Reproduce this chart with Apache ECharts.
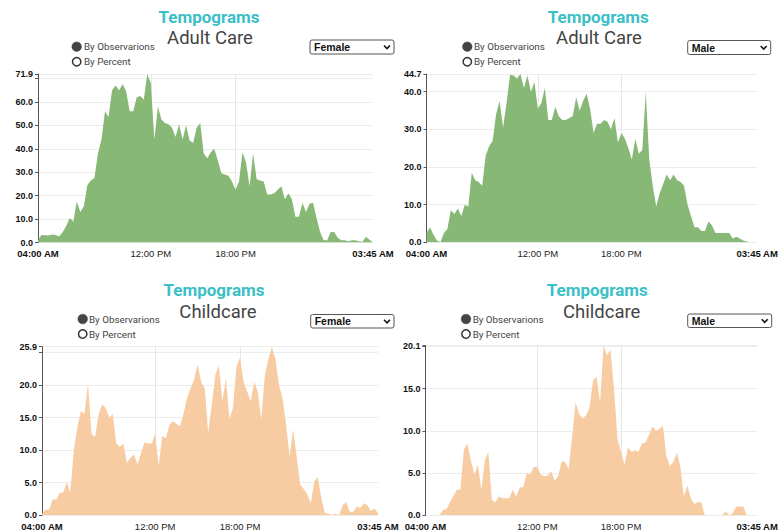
<!DOCTYPE html>
<html><head><meta charset="utf-8">
<script src="https://cdn.jsdelivr.net/npm/echarts@6/dist/echarts.min.js"></script>
<style>html,body{margin:0;padding:0;background:#fff;}#c{width:781px;height:531px;}</style>
</head><body><div id="c"></div>
<script>
// ---- data ----
const tickIndices = [0, 32, 56, 95];
const tickLabels = ['04:00 AM', '12:00 PM', '18:00 PM', '03:45 AM'];
const panelTitles = ['Adult Care', 'Adult Care', 'Childcare', 'Childcare'];
const panelGenders = ['Female', 'Male', 'Female', 'Male'];
const adultFemale = [1,3.2,3.1,3.0,3.4,3.2,2.6,4.5,7,10.5,
  9,17.5,13,15.5,24.5,26.5,27.5,38,44,56,
  53.5,65,67,65,67.5,64.5,56,56,62,62.5,
  61,71.9,68,44,58,52.5,51,50.5,49,45,
  50.5,44,50,43.5,42.5,49,51,38,36,38.5,
  40,35,29.5,29,28.5,26,22.5,26,38.5,34,
  24,38,27,26.5,26,20.5,20.5,21,22.5,24,
  18.5,21,18.5,11,11,17,13,16.5,17,10.5,
  4.5,1,1,4.5,4.5,2,1,1,0.5,1,
  1,0.5,0.3,2.5,1.2,0];
const adultMale = [2.5,4,2,0.5,0,2.5,3.5,8.5,7.5,9,
  7,10,9.5,18.5,16.5,16,15,23,25.5,27,
  34,37.5,30.5,37,44.5,44.3,43.5,44.7,41,44.3,
  40,42.5,35.5,37,41,32.5,32.5,36,33.5,32.5,
  32.5,33,33.5,38.5,35,37.5,39.5,35.5,29,31.5,
  31.5,32.5,32,30,33,26.5,29,27.5,25,22,
  27.5,23.5,24.5,40,22,15,9.5,13,15.5,18,
  16.5,18,16.5,16,15,10,7,4,4,3,
  3,5.5,4.5,2.5,2.5,2.5,2.5,2.5,1,1.5,
  1,0.5,0.2,0,0,0];
const childFemale = [0.2,0.8,0.8,2.4,2.4,3.4,3.5,5,3.5,10,
  13.5,16,15.5,20.2,12.5,12,15.5,17,16.5,15,
  15.5,11,10.5,11,8,8.8,9.3,7.8,9.5,11.2,
  11,11,12.5,7.5,12.2,11.8,13.8,14.5,14,13.7,
  15.5,18,19.5,20.8,23.2,20.5,19.5,12.7,17,21.5,
  23,17.5,21,14.8,16.5,23,24.2,20.5,19,17.5,
  20.5,19,14.7,21.5,24,25.9,24,20,18,14,
  9,13.2,9,4.7,4,3.2,1.8,5.2,5.8,2.5,
  0.3,0.2,0,0.2,0,1.5,2,0.5,0.5,1.3,
  1.1,1.8,1.5,0.6,1,0.3];
const childMale = [0,0,0,0,0,0.6,0.7,1.5,2.3,3,
  3,7.8,8.5,6.5,4.8,6,3,6.5,7.5,1.8,
  1.5,2.2,2,2,2,3,2.2,3.3,3.3,5,
  4.8,5.7,5.7,4.8,4.6,4.7,5.2,4.1,4.6,6.4,
  6.3,5.5,9.3,13.4,12,11.5,11.8,12.8,16,16.4,
  13.3,20.1,19,19.6,15,9,7.5,6,8,7.5,
  7.7,7.5,8.5,8.6,9.5,10.5,10,10.2,10.6,7,
  5.8,6.3,7.4,5.8,2.2,3.5,2,1.3,1.5,1.5,
  0,0,0,0,0,0,0.4,0,0.2,1,
  1,1,0,0,0,0];
const seriesData = [adultFemale, adultMale, childFemale, childMale];
const yIntervals = [10, 10, 5, 5];

// category slots (15-minute steps starting 04:00)
const categories = [];
for (let i = 0; i < 96; i++) {
  const m = (4 * 60 + i * 15) % (24 * 60);
  categories.push(String(Math.floor(m / 60)).padStart(2, '0') + ':' + String(m % 60).padStart(2, '0'));
}

// ---- layout ----
const grids = [
  {left: 38, top: 74, width: 335, height: 168.5},
  {left: 426.5, top: 74, width: 337, height: 168.3},
  {left: 42, top: 346.7, width: 336, height: 168.3},
  {left: 425.5, top: 345.7, width: 336, height: 169.3}
];
const headers = [
  {tx: 209, ty: 17, sx: 210, sy: 38, rx: 76.7, ry: 46.7, tX: 84, sel: [310, 40, 84, 14]},
  {tx: 598.3, ty: 17, sx: 599, sy: 38, rx: 467.3, ry: 46.7, tX: 474, sel: [687.7, 40.5, 83, 14]},
  {tx: 214, ty: 290, sx: 218, sy: 311.7, rx: 82.7, ry: 319, tX: 89, sel: [310.7, 314.5, 83.3, 13.5]},
  {tx: 597.3, ty: 290, sx: 601.7, sy: 311.7, rx: 466, ry: 319, tX: 472.7, sel: [687.7, 314, 84, 13.5]}
];
const fills = ['#87b876', '#87b876', '#f8cca2', '#f8cca2'];

const xAxes = [], yAxes = [], series = [], graphics = [];
seriesData.forEach((d, k) => {
  const maxV = Math.max(...d);
  xAxes.push({
    type: 'category', gridIndex: k, data: categories, boundaryGap: false,
    axisLine: {show: false}, axisTick: {show: false},
    axisLabel: {
      interval: (i) => tickIndices.includes(i), margin: 6,
      formatter: (v, i) => {
        const p = tickIndices.indexOf(i);
        if (p < 0) return '';
        return (p === 0 || p === tickIndices.length - 1) ? '{b|' + tickLabels[p] + '}' : '{n|' + tickLabels[p] + '}';
      },
      rich: {
        b: {fontSize: 9.5, fontWeight: 'bold', color: '#111', fontFamily: 'Liberation Sans, Arial, sans-serif'},
        n: {fontSize: 9.5, color: '#222', fontFamily: 'Liberation Sans, Arial, sans-serif'}
      }
    },
    splitLine: {show: true, interval: (i) => i === 32 || i === 56, lineStyle: {color: '#e6e6e6', width: 1}}
  });
  yAxes.push({
    type: 'value', gridIndex: k, min: 0, max: maxV, interval: yIntervals[k],
    axisLine: {show: true, lineStyle: {color: '#555', width: 1}},
    axisTick: {show: true, length: 3, lineStyle: {color: '#555'}},
    splitLine: {show: true, lineStyle: {color: '#ececec', width: 1}},
    axisLabel: {
      margin: 5, fontSize: 9, fontWeight: 'bold', color: '#111', fontFamily: 'Liberation Sans, Arial, sans-serif',
      formatter: (v) => (v !== maxV && (maxV - v) / maxV < 0.06) ? '' : v.toFixed(1)
    }
  });
  series.push({
    type: 'line', xAxisIndex: k, yAxisIndex: k, data: d, symbol: 'none', silent: true,
    lineStyle: {width: 0, color: fills[k]}, areaStyle: {color: fills[k], opacity: 1}
  });
  const h = headers[k];
  graphics.push(
    {type: 'text', x: h.tx, y: h.ty, style: {text: 'Tempograms', fill: '#3bbfc7', font: 'bold 17px Roboto, sans-serif', textAlign: 'center', textVerticalAlign: 'middle'}},
    {type: 'text', x: h.sx, y: h.sy, style: {text: panelTitles[k], fill: '#444', font: '18.5px Roboto, sans-serif', textAlign: 'center', textVerticalAlign: 'middle'}},
    {type: 'circle', shape: {cx: h.rx, cy: h.ry, r: 4.8}, style: {fill: '#444', stroke: '#444', lineWidth: 0.5}},
    {type: 'text', x: h.tX, y: h.ry, style: {text: 'By Observarions', fill: '#444', font: '9.8px Roboto, sans-serif', textVerticalAlign: 'middle'}},
    {type: 'circle', shape: {cx: h.rx, cy: h.ry + 15, r: 4.2}, style: {fill: '#fff', stroke: '#333', lineWidth: 1.5}},
    {type: 'text', x: h.tX, y: h.ry + 15, style: {text: 'By Percent', fill: '#444', font: '9.8px Roboto, sans-serif', textVerticalAlign: 'middle'}},
    {type: 'rect', shape: {x: h.sel[0], y: h.sel[1], width: h.sel[2], height: h.sel[3], r: 2}, style: {fill: '#fff', stroke: '#555', lineWidth: 1}},
    {type: 'text', x: h.sel[0] + 4, y: h.sel[1] + h.sel[3] / 2, style: {text: panelGenders[k], fill: '#111', font: 'bold 10.5px Liberation Sans, Arial, sans-serif', textVerticalAlign: 'middle'}},
    {type: 'polyline', shape: {points: [[h.sel[0] + h.sel[2] - 10, h.sel[1] + h.sel[3] / 2 - 1.5], [h.sel[0] + h.sel[2] - 7, h.sel[1] + h.sel[3] / 2 + 1.5], [h.sel[0] + h.sel[2] - 4, h.sel[1] + h.sel[3] / 2 - 1.5]]}, style: {stroke: '#111', lineWidth: 1.6, fill: null}}
  );
});

const chart = echarts.init(document.getElementById('c'), null, {renderer: 'svg'});
chart.setOption({
  animation: false,
  grid: grids,
  xAxis: xAxes,
  yAxis: yAxes,
  series: series,
  graphic: graphics
});
</script></body></html>
